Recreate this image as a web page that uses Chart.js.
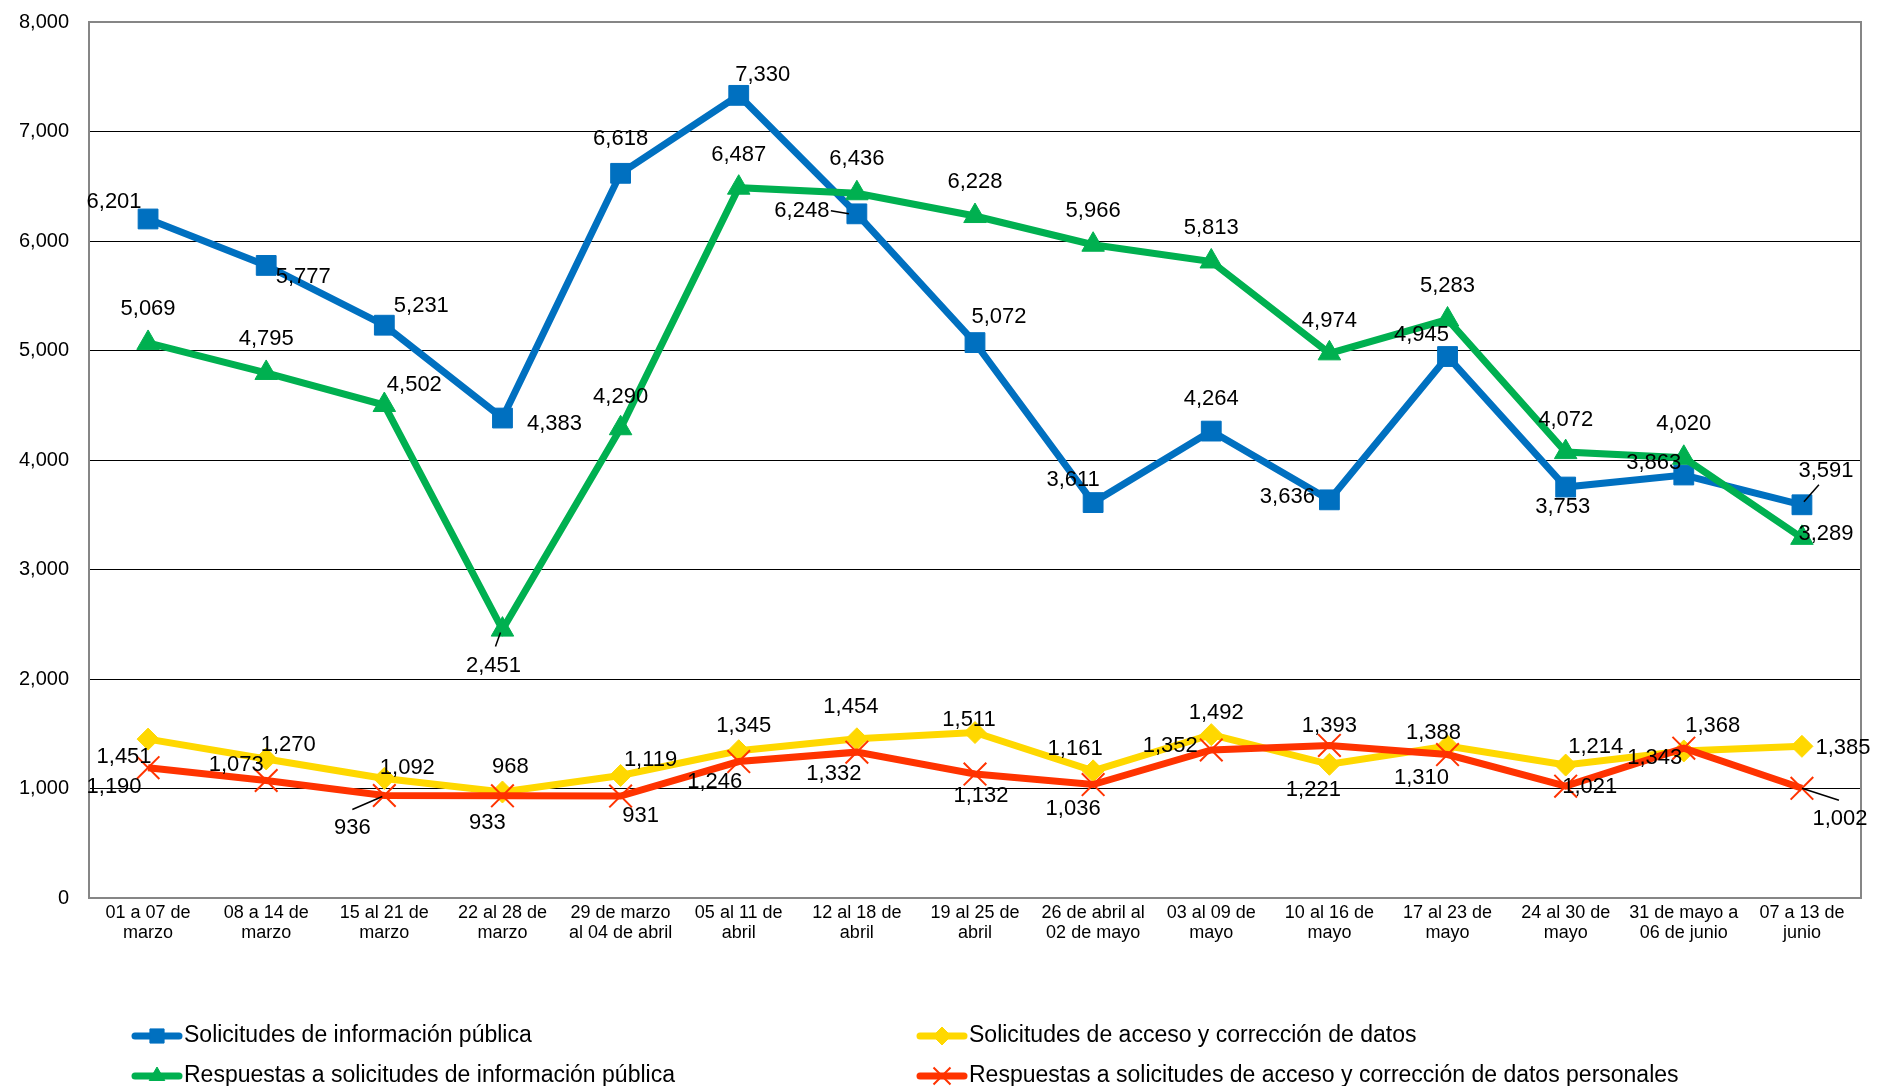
<!DOCTYPE html>
<html>
<head>
<meta charset="utf-8">
<script src="https://cdn.jsdelivr.net/npm/chart.js@4.4.1/dist/chart.umd.min.js"></script>
<style>
  html, body { margin: 0; padding: 0; background: #fff; }
  canvas { display: block; }
</style>
</head>
<body>
<canvas id="chart" width="1879" height="1086"></canvas>
<script>
const weeks = [
  ['01 a 07 de', 'marzo'], ['08 a 14 de', 'marzo'], ['15 al 21 de', 'marzo'],
  ['22 al 28 de', 'marzo'], ['29 de marzo', 'al 04 de abril'], ['05 al 11 de', 'abril'],
  ['12 al 18 de', 'abril'], ['19 al 25 de', 'abril'], ['26 de abril al', '02 de mayo'],
  ['03 al 09 de', 'mayo'], ['10 al 16 de', 'mayo'], ['17 al 23 de', 'mayo'],
  ['24 al 30 de', 'mayo'], ['31 de mayo a', '06 de junio'], ['07 a 13 de', 'junio']
];

const solicitudesInfo = [6201, 5777, 5231, 4383, 6618, 7330, 6248, 5072, 3611, 4264, 3636, 4945, 3753, 3863, 3591];
const solicitudesAcceso = [1451, 1270, 1092, 968, 1119, 1345, 1454, 1511, 1161, 1492, 1221, 1388, 1214, 1343, 1385];
const respuestasInfo = [5069, 4795, 4502, 2451, 4290, 6487, 6436, 6228, 5966, 5813, 4974, 5283, 4072, 4020, 3289];
const respuestasAcceso = [1190, 1073, 936, 933, 931, 1246, 1332, 1132, 1036, 1352, 1393, 1310, 1021, 1368, 1002];

const yTicks = [0, 1000, 2000, 3000, 4000, 5000, 6000, 7000, 8000];

const BLUE = '#0070C0', YELLOW = '#FFD800', GREEN = '#00B050', RED = '#FF3300';
const FONT = '"Liberation Sans", Arial, sans-serif';

// label centre relative to its point, plus a few leader lines
const blueLabelPos = [[-34,-17],[37,12],[37,-19],[52,6],[0,-34],[24,-20],[-55,-3],[24,-26],[-20,-23],[0,-32],[-42,-3],[-26,-22],[-3,20],[-30,-12],[24,-34]];
const yellowLabelPos = [[-24,18],[22,-14],[23,-10],[8,-25],[30,-16],[5,-25],[-6,-32],[-6,-13],[-18,-22],[5,-22],[-16,26],[-14,-13],[30,-18],[-29,7],[41,2]];
const greenLabelPos = [[0,-34],[0,-34],[30,-20],[-9,36],[0,-31],[0,-33],[0,-34],[0,-34],[0,-34],[0,-34],[0,-32],[0,-34],[0,-32],[0,-34],[24,-4]];
const redLabelPos = [[-34,19],[-30,-16],[-32,32],[-15,27],[20,20],[-24,20],[-23,22],[6,22],[-20,24],[-41,-4],[0,-20],[-26,23],[24,1],[29,-22],[38,31]];

const fmt = v => v.toLocaleString('en-US');

const frame = {
  id: 'frame',
  beforeDatasetsDraw(chart) {
    const { ctx, chartArea: a } = chart;
    ctx.save();
    ctx.strokeStyle = '#868686';
    ctx.lineWidth = 2;
    ctx.strokeRect(a.left, a.top, a.right - a.left, a.bottom - a.top);
    ctx.restore();
  }
};

const pointLabels = {
  id: 'pointLabels',
  afterDatasetsDraw(chart) {
    const ctx = chart.ctx;
    ctx.save();
    ctx.font = '22px ' + FONT;
    ctx.fillStyle = '#000';
    ctx.textAlign = 'center';
    ctx.textBaseline = 'middle';
    chart.data.datasets.forEach((ds, di) => {
      const meta = chart.getDatasetMeta(di);
      meta.data.forEach((pt, i) => {
        const [dx, dy] = ds.labelPos[i];
        ctx.fillText(fmt(ds.data[i]), pt.x + dx, pt.y + dy);
      });
      ctx.strokeStyle = '#000';
      ctx.lineWidth = 1.5;
      Object.entries(ds.leaders || {}).forEach(([i, [x1, y1, x2, y2]]) => {
        const pt = meta.data[i];
        ctx.beginPath();
        ctx.moveTo(pt.x + x1, pt.y + y1);
        ctx.lineTo(pt.x + x2, pt.y + y2);
        ctx.stroke();
      });
    });
    ctx.restore();
  }
};

const legendSlots = [[132, 1036], [917, 1036], [132, 1076], [917, 1076]];

const legendBox = {
  id: 'legendBox',
  afterDraw(chart) {
    const ctx = chart.ctx;
    ctx.save();
    chart.data.datasets.forEach((ds, di) => {
      const [x, y] = legendSlots[di];
      ctx.strokeStyle = ds.borderColor;
      ctx.lineWidth = 7;
      ctx.lineCap = 'round';
      ctx.beginPath();
      ctx.moveTo(x + 3, y);
      ctx.lineTo(x + 47, y);
      ctx.stroke();
      ctx.lineCap = 'butt';
      ctx.fillStyle = ds.pointBackgroundColor;
      ctx.strokeStyle = ds.pointBorderColor;
      ctx.lineWidth = ds.pointStyle === 'crossRot' ? 2 : 1;
      Chart.helpers.drawPoint(ctx, {
        pointStyle: ds.pointStyle,
        radius: ds.pointStyle === 'crossRot' ? 12 : (ds.pointStyle === 'rect' ? 10 : 9),
        borderWidth: ctx.lineWidth,
        rotation: 0
      }, x + 25, y);
      ctx.fillStyle = '#000';
      ctx.font = '23px ' + FONT;
      ctx.textAlign = 'left';
      ctx.textBaseline = 'middle';
      ctx.fillText(ds.label, x + 52, y);
    });
    ctx.restore();
  }
};

new Chart(document.getElementById('chart'), {
  type: 'line',
  data: {
    labels: weeks,
    datasets: [
      {
        label: 'Solicitudes de información pública',
        data: solicitudesInfo,
        borderColor: BLUE, backgroundColor: BLUE,
        pointBackgroundColor: BLUE, pointBorderColor: BLUE,
        pointStyle: 'rect', pointRadius: 14, pointBorderWidth: 1,
        borderWidth: 7, order: 4,
        labelPos: blueLabelPos,
        leaders: { 6: [-26, -3, -8, 0], 14: [2, -3, 17, -20] }
      },
      {
        label: 'Solicitudes de acceso y corrección de datos',
        data: solicitudesAcceso,
        borderColor: YELLOW, backgroundColor: YELLOW,
        pointBackgroundColor: YELLOW, pointBorderColor: YELLOW,
        pointStyle: 'rectRot', pointRadius: 11, pointBorderWidth: 1,
        borderWidth: 7, order: 3,
        labelPos: yellowLabelPos
      },
      {
        label: 'Respuestas a solicitudes de información pública',
        data: respuestasInfo,
        borderColor: GREEN, backgroundColor: GREEN,
        pointBackgroundColor: GREEN, pointBorderColor: GREEN,
        pointStyle: 'triangle', pointRadius: 13, pointBorderWidth: 1,
        borderWidth: 7, order: 2,
        labelPos: greenLabelPos,
        leaders: { 3: [-7, 17, -2, 3] }
      },
      {
        label: 'Respuestas a solicitudes de acceso y corrección de datos personales',
        data: respuestasAcceso,
        borderColor: RED, backgroundColor: RED,
        pointBackgroundColor: RED, pointBorderColor: RED,
        pointStyle: 'crossRot', pointRadius: 16, pointBorderWidth: 2,
        borderWidth: 7, order: 1,
        labelPos: redLabelPos,
        leaders: { 2: [-32, 14, -2, 1], 14: [0, 0, 37, 12] }
      }
    ]
  },
  options: {
    responsive: false,
    animation: false,
    devicePixelRatio: 1,
    layout: { padding: { top: 22, right: 12, left: 0, bottom: 0 } },
    plugins: {
      legend: { display: false },
      tooltip: { enabled: false }
    },
    elements: { line: { tension: 0 } },
    scales: {
      x: {
        offset: true,
        grid: { display: false, drawTicks: false },
        border: { display: false },
        ticks: {
          color: '#000',
          font: { family: FONT, size: 18, lineHeight: 1.1 },
          padding: 5,
          maxRotation: 0,
          autoSkip: false
        },
        afterFit(scale) { scale.height = 188; }
      },
      y: {
        min: 0,
        max: 8000,
        afterBuildTicks(scale) { scale.ticks = yTicks.map(v => ({ value: v })); },
        grid: {
          drawTicks: false,
          color: c => (c.tick.value === 0 || c.tick.value === 8000) ? 'rgba(0,0,0,0)' : '#000',
          lineWidth: 1
        },
        border: { display: false },
        ticks: {
          color: '#000',
          font: { family: FONT, size: 20 },
          padding: 20,
          callback: v => fmt(v)
        },
        afterFit(scale) {
          scale.width = 89;
          scale.paddingTop = 0;
          scale.paddingBottom = 0;
        }
      }
    }
  },
  plugins: [frame, pointLabels, legendBox]
});
</script>
</body>
</html>
